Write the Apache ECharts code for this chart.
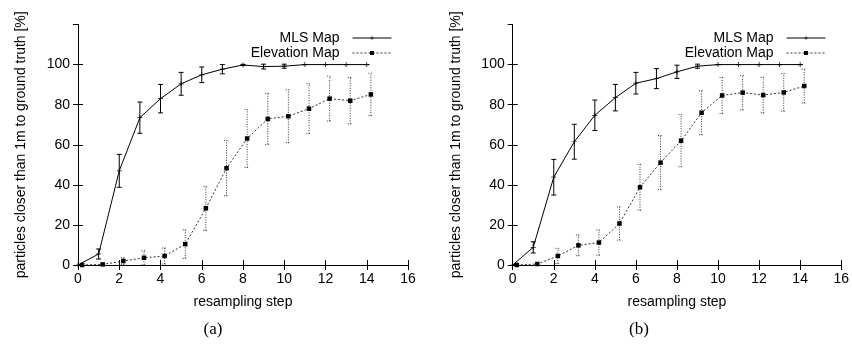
<!DOCTYPE html>
<html>
<head>
<meta charset="utf-8">
<script src="https://cdn.jsdelivr.net/npm/echarts@6/dist/echarts.min.js"></script>
<style>
  html, body { margin: 0; padding: 0; background: #fff; }
  #wrap { width: 852px; height: 345px; display: flex; }
  .panel { width: 426px; height: 345px; }
</style>
</head>
<body>
<div id="wrap">
  <div class="panel" id="chartA"></div>
  <div class="panel" id="chartB"></div>
</div>
<script>
// resampling steps (x values)
const steps = [0, 1, 2, 3, 4, 5, 6, 7, 8, 9, 10, 11, 12, 13, 14];
// elevation map points are drawn slightly shifted to the right
const elevOffset = 0.2;

// (a)
const mlsA     = [0, 5.5, 47, 73.5, 83, 90.4, 94.9, 97.7, 99.8, 99, 99.2, 100, 100, 100, 100];
const mlsAErr  = [0, 2.5, 8.2, 7.8, 7.1, 5.7, 3.9, 2.3, 0.3, 1.2, 1, 0, 0, 0, 0];
const elevA    = [0, 0.3, 2, 3.6, 4.5, 10.4, 28.3, 48.3, 63.1, 72.9, 74.2, 78, 83, 82, 85.1];
const elevAErr = [0, 0.3, 1.7, 3.5, 4, 7.1, 11, 13.8, 14.4, 12.7, 13.2, 12.4, 11.2, 11.6, 10.6];

// (b)
const mlsB     = [0, 8.8, 43.8, 61.5, 74.7, 83.5, 90.7, 93, 96.4, 99.2, 100, 100, 100, 100, 100];
const mlsBErr  = [0, 2.8, 8.9, 8.7, 7.6, 6.6, 5.4, 5, 3.3, 1, 0, 0, 0, 0, 0];
const elevB    = [0, 0.5, 4.5, 9.8, 11.2, 20.7, 38.8, 51.1, 62, 76, 84.6, 86, 84.8, 86.1, 89.3];
const elevBErr = [0, 0.4, 3.8, 5.2, 6.3, 8.3, 11.4, 13.5, 13, 11, 9, 8.6, 8.9, 9.4, 8.5];

const FONT = "Liberation Sans";

function errRender(dash, color) {
  return function (params, api) {
    const x = api.value(0);
    const lo = api.coord([x, api.value(1)]);
    const hi = api.coord([x, api.value(2)]);
    const w = 2.5;
    const style = { stroke: color, lineWidth: 1, lineDash: dash };
    return {
      type: 'group',
      children: [
        { type: 'line', shape: { x1: lo[0], y1: lo[1], x2: hi[0], y2: hi[1] }, style },
        { type: 'line', shape: { x1: hi[0] - w, y1: hi[1], x2: hi[0] + w, y2: hi[1] }, style },
        { type: 'line', shape: { x1: lo[0] - w, y1: lo[1], x2: lo[0] + w, y2: lo[1] }, style }
      ]
    };
  };
}

function axisX(pos, showLabel) {
  return {
    type: 'value', position: pos, min: 0, max: 16, interval: 2,
    name: showLabel ? 'resampling step' : '',
    nameLocation: 'middle', nameGap: 30,
    nameTextStyle: { fontFamily: FONT, fontSize: 14, color: '#000' },
    axisLine: { show: true, lineStyle: { color: '#000', width: 1 } },
    axisTick: { show: true, inside: true, length: 5, lineStyle: { color: '#000' } },
    axisLabel: { show: showLabel, fontFamily: FONT, fontSize: 14, color: '#000', margin: 7 },
    splitLine: { show: false }
  };
}

function axisY(pos, showLabel, nameGap) {
  return {
    type: 'value', position: pos, min: 0, max: 120, interval: 20,
    name: showLabel ? 'particles closer than 1m to ground truth [%]' : '',
    nameLocation: 'middle', nameGap: nameGap,
    nameTextStyle: { fontFamily: FONT, fontSize: 14, color: '#000' },
    axisLine: { show: true, lineStyle: { color: '#000', width: 1 } },
    axisTick: { show: true, inside: true, length: 5, lineStyle: { color: '#000' } },
    axisLabel: { show: showLabel, showMaxLabel: false, fontFamily: FONT, fontSize: 14, color: '#000', margin: 8 },
    splitLine: { show: false }
  };
}

function buildOption(mls, mlsErr, elev, elevErr, left, nameGap, legendRight) {
  const mlsData = steps.map((s, i) => [s, mls[i]]);
  const elevData = steps.map((s, i) => [s + elevOffset, elev[i]]);
  const mlsBars = steps.map((s, i) => [s, mls[i] - mlsErr[i], mls[i] + mlsErr[i]]);
  const elevBars = steps.map((s, i) => [s + elevOffset, elev[i] - elevErr[i], elev[i] + elevErr[i]]);
  return {
    animation: false,
    grid: { left: left, top: 24.5, width: 330, height: 240.5 },
    legend: {
      orient: 'vertical', align: 'right', right: legendRight, top: 31, padding: 0,
      itemWidth: 39, itemHeight: 5, itemGap: 1,
      lineStyle: { width: 1 },
      textStyle: { fontFamily: FONT, fontSize: 14, lineHeight: 14, color: '#000', padding: [0, 8, 0, 0] },
      data: ['MLS Map', 'Elevation Map']
    },
    xAxis: [axisX('bottom', true), axisX('top', false)],
    yAxis: [axisY('left', true, nameGap), axisY('right', false, 0)],
    series: [
      {
        type: 'custom', name: 'mlsErr', xAxisIndex: 0, yAxisIndex: 0,
        renderItem: errRender(null, '#000'), data: mlsBars, clip: true, silent: true
      },
      {
        type: 'custom', name: 'elevErr', xAxisIndex: 0, yAxisIndex: 0,
        renderItem: errRender([1, 1.5], '#333'), data: elevBars, clip: true, silent: true
      },
      {
        type: 'line', name: 'MLS Map', data: mlsData,
        symbol: 'path://M0 3h7v1H0zM3 0h1v7H3z', symbolSize: 5, showSymbol: true,
        lineStyle: { color: '#000', width: 1 },
        itemStyle: { color: '#000' }
      },
      {
        type: 'line', name: 'Elevation Map', data: elevData,
        symbol: 'rect', symbolSize: 4.5, showSymbol: true,
        lineStyle: { color: '#333', width: 1, type: [2, 2] },
        itemStyle: { color: '#000' }
      }
    ],
    graphic: [
      {
        type: 'text', left: 'center', top: 321,
        style: { text: left < 80 ? '(a)' : '(b)', fontFamily: 'Liberation Serif', fontSize: 17, fill: '#000' }
      }
    ]
  };
}

const chartA = echarts.init(document.getElementById('chartA'));
chartA.setOption(buildOption(mlsA, mlsAErr, elevA, elevAErr, 78, 50, 34));
const chartB = echarts.init(document.getElementById('chartB'));
chartB.setOption(buildOption(mlsB, mlsBErr, elevB, elevBErr, 86.7, 50, 26));
</script>
</body>
</html>
